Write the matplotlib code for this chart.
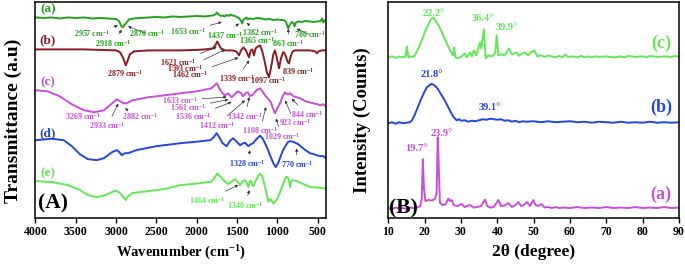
import numpy as np
import matplotlib.pyplot as plt

plt.rcParams['font.family'] = 'Liberation Serif'
plt.rcParams['font.weight'] = 'bold'
plt.rcParams['axes.labelweight'] = 'bold'
plt.rcParams['mathtext.fontset'] = 'custom'
plt.rcParams['mathtext.rm'] = 'Liberation Serif:bold'
plt.rcParams['mathtext.it'] = 'Liberation Serif:bold'
plt.rcParams['mathtext.bf'] = 'Liberation Serif:bold'

# ---- FTIR spectra (wavenumber, transmittance in a.u., curves stacked) ----
wn_a = [4000, 3900, 3800, 3700, 3600, 3500, 3400, 3300, 3200, 3100, 3000, 2960, 2940, 2918, 2900, 2870,
        2840, 2780, 2700, 2600, 2500, 2400, 2300, 2200, 2100, 2000, 1900, 1800, 1770, 1750, 1735, 1720,
        1700, 1680, 1653, 1630, 1600, 1580, 1560, 1530, 1500, 1470, 1450, 1437, 1420, 1400, 1382, 1365,
        1340, 1300, 1250, 1200, 1150, 1100, 1050, 1000, 950, 910, 890, 875, 863, 850, 835, 820, 800, 786,
        770, 740, 700, 650, 600, 550, 500, 460, 445, 430, 415, 400]
t_a = [201, 200.5, 201, 200, 201, 200.5, 201, 200, 200.5, 200, 199.5, 197, 193, 191, 193, 196,
       199, 200, 200.5, 201, 201.5, 201, 202, 201.5, 202, 202.5, 202, 203, 204, 206, 204.5, 203.5,
       202.5, 203, 202, 203.5, 202.5, 204, 203, 202.5, 201.5, 200, 197.5, 195, 199, 200, 201, 199,
       200, 199.5, 200.5, 200, 199, 199.5, 198.5, 199, 198.5, 198, 196, 192, 190, 193, 195, 196.5, 195, 192,
       196, 197, 196.5, 197.5, 197, 196.5, 197, 197.5, 200, 196, 198, 198]

wn_b = [4000, 3800, 3600, 3400, 3200, 3000, 2950, 2910, 2880, 2860, 2830, 2780, 2600, 2400, 2200, 2000,
        1900, 1800, 1770, 1745, 1725, 1700, 1650, 1600, 1560, 1510, 1476, 1450, 1420, 1390, 1352, 1330,
        1310, 1290, 1270, 1240, 1215, 1190, 1160, 1130, 1104, 1080, 1050, 1029, 1005, 979, 955, 930,
        917, 895, 870, 855, 835, 810, 780, 700, 600, 530, 508, 490, 450, 400]
t_b = [169, 169, 169, 169, 168.5, 168, 166, 160, 153, 157, 164, 167, 168, 168, 168, 168.5,
       169, 170, 173, 177, 174, 170, 168, 168, 168, 167, 163, 168, 171, 168, 161, 168,
       169, 163, 170, 172, 173, 168, 158, 146, 141, 150, 164, 168, 160, 150, 160, 166,
       166, 162, 156, 155, 162, 167, 168, 168, 168, 167, 165, 167, 168, 168]

wn_c = [4000, 3850, 3700, 3550, 3400, 3270, 3150, 3050, 2990, 2950, 2910, 2870, 2800, 2600, 2300, 2000,
        1820, 1790, 1752, 1720, 1680, 1649, 1612, 1566, 1530, 1488, 1450, 1426, 1395, 1368, 1339, 1300,
        1260, 1215, 1185, 1153, 1110, 1080, 1050, 1029, 1000, 967, 935, 905, 875, 860, 843, 800,
        719, 650, 557, 500, 471, 430, 400]
t_c = [128, 127, 122, 114, 108, 106, 108, 115, 119, 117, 115, 115, 118, 121, 124, 127,
       130, 132, 135, 130, 125, 123, 125, 121, 124, 127, 125, 122, 125, 126, 122, 124,
       128, 130, 127, 123, 119, 116, 109, 105, 110, 115, 122, 126, 124, 124, 125, 122,
       120, 117, 115, 114, 113, 114, 112]

wn_d = [4000, 3800, 3650, 3550, 3450, 3350, 3240, 3150, 3050, 2990, 2960, 2930, 2890, 2850, 2750, 2500,
        2200, 2000, 1830, 1790, 1752, 1720, 1680, 1628, 1590, 1550, 1510, 1463, 1420, 1401, 1360, 1328,
        1300, 1260, 1215, 1185, 1153, 1120, 1091, 1050, 1020, 990, 967, 935, 905, 870, 843, 810,
        781, 740, 698, 650, 595, 550, 512, 470, 430, 400]
t_d = [78, 79.5, 78, 72, 64, 59, 58, 60, 66, 68, 66, 63, 65, 65, 68, 72,
       75, 76.5, 78, 81, 85, 81, 75, 72, 77, 80, 77, 73, 75, 75.5, 72, 74,
       75, 79, 82.5, 80, 75, 69, 63, 55, 51, 55, 60, 67, 71.5, 76, 77, 76.5,
       75.5, 74, 71, 68, 65, 64, 63, 62, 62, 60]

wn_e = [4000, 3800, 3600, 3450, 3350, 3250, 3150, 3050, 3010, 2960, 2920, 2880, 2850, 2800, 2600, 2400,
        2200, 2000, 1820, 1790, 1745, 1700, 1670, 1608, 1560, 1525, 1490, 1463, 1430, 1401, 1380, 1360,
        1340, 1327, 1310, 1298, 1270, 1240, 1215, 1190, 1165, 1141, 1112, 1095, 1083, 1050, 1025, 1008,
        985, 967, 940, 920, 900, 884, 865, 850, 843, 832, 810, 760, 719, 650, 595, 500, 400]
t_e = [37, 36, 33, 28, 23, 21, 22.5, 26, 27.5, 25.5, 22, 18, 22, 25, 27, 29,
       33, 34.5, 36.5, 39, 44.5, 41, 38, 34, 37, 39, 36, 33, 37, 38, 35, 31,
       37, 37, 33, 32, 37, 42, 44.5, 42, 35, 27, 16.5, 19, 18.5, 14.5, 17, 18,
       22, 26, 32, 36, 40, 41.5, 40, 35, 31, 36, 38, 37, 35.5, 33, 31, 30.5, 29.5]

# ---- XRD patterns (2theta, intensity in counts a.u., stacked) ----
tt_c = [10, 11, 12, 13, 14, 14.7, 15.1, 15.5, 16, 16.8, 17.3, 18, 19, 20, 21, 21.7, 22.3, 23, 24, 25, 26,
        27, 27.8, 28.1, 28.5, 29, 30, 31, 31.6, 32.5, 33, 33.5, 34.2, 35.2, 35.6, 36.3, 36.8, 37.5, 38.5,
        39.4, 39.8, 40.3, 41, 42, 43.2, 44, 45.3, 46, 47, 47.6, 48.5, 49.2, 50.1, 51, 52, 53, 54, 55, 56,
        57, 58, 58.6, 59.5, 61, 62, 63, 64, 65, 66, 67, 68, 70, 72, 74, 75, 76, 78, 80, 81, 82, 84, 86,
        88, 89, 90]
i_c = [161, 162, 160.5, 162, 161, 162, 172, 161, 162, 161.5, 163, 168, 176, 186, 194, 199, 201, 198, 192, 184, 176,
       168, 163, 171, 161, 160, 161.5, 165, 161, 166, 162, 168, 163, 176, 170, 189, 160, 163, 162,
       165, 183, 163, 164, 163, 170, 164, 166, 162.5, 165, 166, 163, 166, 168, 162, 163, 161.5, 163, 162, 161,
       162.5, 161, 164, 161.5, 162, 161, 162.5, 161, 162, 161, 162, 161.5, 162, 161, 162, 161, 162.5, 161.5, 162, 161, 162.5, 161.5, 162,
       161.5, 162.5, 161.5]

tt_b = [10, 11, 12, 13, 14, 15, 16, 16.5, 17.2, 18, 19, 20, 20.6, 21.3, 21.9, 22.5, 23, 23.7, 24.5, 25.2,
        25.8, 26.5, 27.2, 28, 28.8, 29.5, 30, 31, 32, 33, 34, 35, 36, 37, 38, 39, 40, 41, 42, 43, 44, 45,
        46, 47, 48, 50, 52, 54, 56, 58, 60, 62, 64, 66, 68, 70, 72, 74, 76, 78, 80, 82, 84, 86, 88, 90]
i_b = [95, 96, 94.5, 96, 95, 95.5, 96, 98, 103, 110, 119, 127, 131, 133, 134.5, 133.5, 132, 129, 124, 120,
       116, 111, 106, 101, 98, 99, 97.5, 98, 96.5, 97.5, 97, 98, 99, 98.5, 99.5, 99, 98.5, 99, 97.5, 98, 96.5, 97.5,
       96, 97, 96.5, 97, 96, 97, 96, 96.5, 97, 96, 96.5, 95.5, 96.5, 96, 95.5, 96.5, 95.5, 96, 95.5, 96.5, 95.5, 96, 95.5, 96]

tt_a = [10, 11, 12, 13, 14, 15, 16, 17, 18, 18.8, 19.2, 19.5, 19.8, 20.2, 21, 22, 22.8, 23.3, 23.6, 23.9,
        24.2, 25, 25.8, 26.5, 27, 27.4, 28, 29, 30.2, 31, 32.5, 33.5, 34.5, 35.5, 36.6, 37.2, 38, 39, 40.3,
        41, 42, 43, 44, 45, 45.8, 46.5, 47.3, 48.1, 49, 49.9, 50.5, 51.2, 52.2, 53, 54, 55, 56, 57, 58, 60,
        62, 64, 66, 68, 70, 72, 74, 76, 78, 80, 82, 84, 86, 88, 90]
i_a = [10, 9, 10.5, 9.5, 10, 9, 10.5, 10, 10.5, 12, 20, 59, 30, 17, 18, 17.5, 19, 25, 81, 50,
       15, 13, 14, 19.5, 17, 18, 13, 12, 14, 11, 13, 10.5, 11, 12, 18.5, 12, 10.5, 11, 18,
       12, 12.5, 15, 11, 13, 16, 12, 13, 16, 12, 18, 13, 12, 14, 10.5, 11, 10, 11, 10, 10.5, 10,
       11, 10, 10.5, 10, 11, 10, 10.5, 10, 11, 10, 10.5, 10, 11, 10, 10.5]

c_green = '#22a21c'
c_red = '#8c1b22'
c_mag = '#c84fd8'
c_blue = '#2445e2'
c_lgreen = '#62e858'

fig = plt.figure(figsize=(6.85, 2.64), dpi=100)
ax1 = fig.add_axes([0.0518, 0.1742, 0.4237, 0.8201])
ax2 = fig.add_axes([0.5669, 0.1742, 0.4243, 0.8201])

for x, y, col in [(wn_a, t_a, c_green), (wn_b, t_b, c_red), (wn_c, t_c, c_mag),
                  (wn_d, t_d, c_blue), (wn_e, t_e, c_lgreen)]:
    ax1.plot(x, y, color=col, lw=1.4)

ax1.set_xlim(4000, 400)
ax1.set_ylim(0, 217)
ax1.set_xticks(np.arange(4000, 499, -500))
ax1.set_yticks([])
ax1.set_xlabel('Wavenumber (cm$^{-1}$)', fontsize=10.5, labelpad=4)
ax1.set_ylabel('Transmittance (a.u)', fontsize=14)
ax1.yaxis.set_label_coords(-0.046, 0.45)


def cm(v):
    return f'{v} cm$^{{-1}}$'


arr = dict(arrowstyle='-|>', color='#333333', lw=0.5, mutation_scale=4, shrinkA=1, shrinkB=0)
# (label, text position, arrow tip or None, colour)
notes = [
    (2957, (3303, 184.7), (2977, 193), c_green),
    (2918, (3039, 175.3), (2931, 188.7), c_green),
    (2870, (2621, 184.7), (2853, 192), c_green),
    (1653, (2108, 187.3), (1690, 196.3), c_green),
    (1437, (1649, 183), (1476, 195), c_green),
    (1382, (1215, 185.7), (1380, 195.3), c_green),
    (1365, (1256, 178), None, c_green),
    (863, (864, 174.7), (864, 189.7), c_green),
    (786, (595, 183.7), (760, 189.7), c_green),
    (2879, (2890, 145.3), None, c_red),
    (1621, (2229, 156.3), (1752, 171.3), c_red),
    (1593, (2145, 149.7), (1649, 168.7), c_red),
    (1462, (2083, 144), (1484, 160.7), c_red),
    (1339, (1504, 140.3), (1348, 158), c_red),
    (1097, (1112, 138), None, c_red),
    (839, (740, 147), None, c_red),
    (3269, (3407, 102), None, c_mag),
    (2933, (3109, 92.3), (2973, 114.7), c_mag),
    (2882, (2704, 101.3), (2890, 109.7), c_mag),
    (1633, (2207, 118), (1628, 121.3), c_mag),
    (1561, (2105, 110.7), (1608, 118.7), c_mag),
    (1536, (2042, 101.3), (1566, 116.3), c_mag),
    (1412, (1752, 93), (1401, 118), c_mag),
    (1342, (1401, 102), (1348, 121.3), c_mag),
    (1108, (1215, 87.3), (1141, 111.3), c_mag),
    (1029, (946, 82), (1017, 99.7), c_mag),
    (923, (781, 95.3), (905, 118), c_mag),
    (844, (636, 103.7), (822, 119.7), c_mag),
    (1328, (1380, 54.7), (1339, 68), c_blue),
    (770, (760, 53.7), (760, 69.7), c_blue),
    (1464, (1876, 18), (1484, 33), c_lgreen),
    (1340, (1401, 13), (1348, 28), c_lgreen),
]
for v, txt, tip, col in notes:
    if tip is None:
        ax1.text(txt[0], txt[1], cm(v), color=col, fontsize=5.8, ha='center', va='center')
    else:
        ax1.annotate(cm(v), xy=tip, xytext=txt, color=col, fontsize=5.8, ha='center', va='center',
                     arrowprops=arr)

for lab, y, col in [('(a)', 209.7, c_green), ('(b)', 178, c_red), ('(c)', 135.7, c_mag),
                    ('(d)', 84.7, c_blue), ('(e)', 45.3, c_lgreen)]:
    ax1.text(3845, y, lab, color=col, fontsize=9.5, ha='center', va='center')
ax1.text(3779, 14.7, '(A)', color='black', fontsize=15.5, ha='center', va='center')

# ---- XRD ----
for x, y, col in [(tt_c, i_c, c_lgreen), (tt_b, i_b, c_blue), (tt_a, i_a, c_mag)]:
    ax2.plot(x, y, color=col, lw=1.4)
ax2.set_xlim(10, 90)
ax2.set_ylim(0, 217)
ax2.set_xticks(np.arange(10, 91, 10))
ax2.set_yticks([])
ax2.set_xlabel('2θ (degree)', fontsize=12.5, labelpad=4)
ax2.set_ylabel('Intensity (Counts)', fontsize=13.5)
ax2.yaxis.set_label_coords(-0.06, 0.453)

for lab, x, y, col in [('22.2°', 22.4, 204.7, c_lgreen), ('36.4°', 36.1, 199.7, c_lgreen),
                       ('39.9°', 42.6, 191.3, c_lgreen), ('21.8°', 21.9, 144, c_blue),
                       ('39.1°', 38, 110.7, c_blue), ('19.7°', 17.6, 69.7, c_mag),
                       ('23.9°', 24.7, 84.7, c_mag)]:
    ax2.text(x, y, lab, color=col, fontsize=7.5, ha='center', va='center')
for lab, y, col in [('(c)', 174.7, c_lgreen), ('(b)', 110.7, c_blue), ('(a)', 24, c_mag)]:
    ax2.text(85, y, lab, color=col, fontsize=13, ha='center', va='center')
ax2.text(14.1, 9.7, '(B)', color='black', fontsize=15.5, ha='center', va='center')

for ax in (ax1, ax2):
    for s in ax.spines.values():
        s.set_linewidth(1.1)
    ax.tick_params(axis='x', labelsize=8.5, length=3.5, width=1, direction='out', pad=2.5)

fig.savefig('out.png', dpi=100)
